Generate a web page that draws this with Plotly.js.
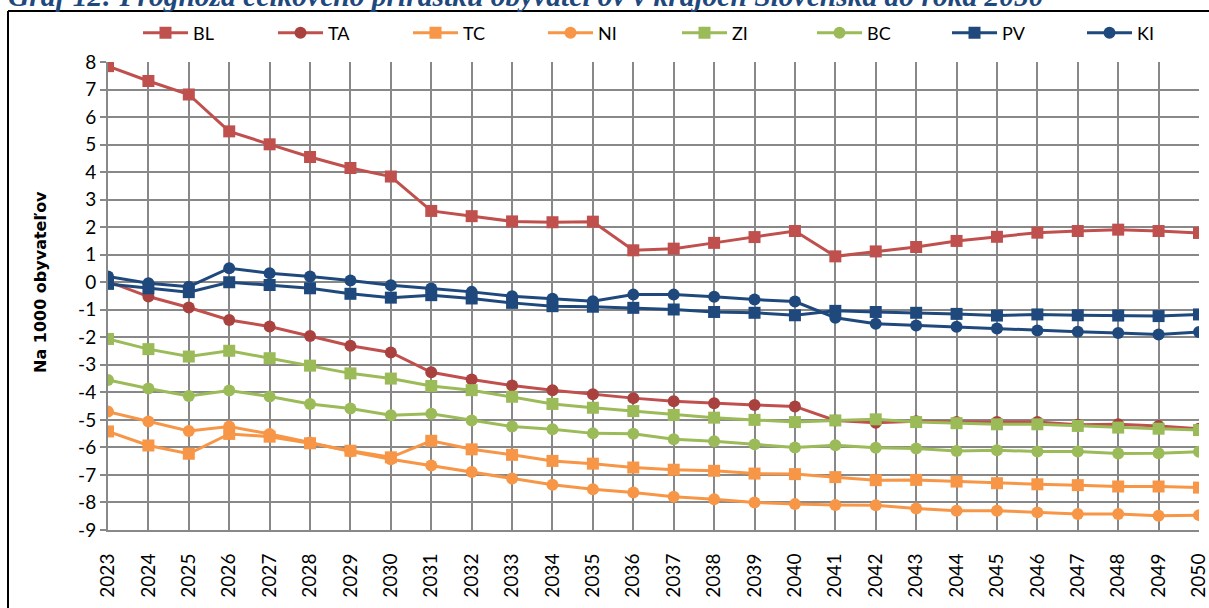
<!DOCTYPE html>
<html>
<head>
<meta charset="utf-8">
<script src="https://cdn.plot.ly/plotly-3.0.1.min.js"></script>
<style>
  html, body { margin: 0; padding: 0; background: #ffffff; }
  #chart { width: 1209px; height: 608px; }
</style>
</head>
<body>
<div id="chart"></div>
<script>
// Years (categories)
const years = [2023,2024,2025,2026,2027,2028,2029,2030,2031,2032,2033,2034,2035,2036,2037,2038,2039,2040,2041,2042,2043,2044,2045,2046,2047,2048,2049,2050];

// Series values (per 1000 inhabitants)
const BL = [7.85,7.31,6.82,5.48,5.01,4.55,4.15,3.84,2.59,2.40,2.21,2.18,2.20,1.16,1.22,1.43,1.64,1.86,0.94,1.12,1.28,1.50,1.65,1.80,1.86,1.91,1.86,1.79];
const TA = [0.03,-0.52,-0.92,-1.37,-1.61,-1.95,-2.31,-2.55,-3.27,-3.53,-3.75,-3.92,-4.07,-4.21,-4.32,-4.40,-4.46,-4.51,-5.02,-5.10,-5.05,-5.08,-5.08,-5.08,-5.18,-5.16,-5.22,-5.32];
const TC = [-5.42,-5.93,-6.23,-5.51,-5.61,-5.85,-6.12,-6.36,-5.76,-6.07,-6.27,-6.49,-6.59,-6.73,-6.81,-6.85,-6.95,-6.97,-7.08,-7.19,-7.18,-7.24,-7.30,-7.34,-7.37,-7.42,-7.42,-7.46];
const NI = [-4.70,-5.06,-5.40,-5.24,-5.51,-5.82,-6.15,-6.43,-6.66,-6.89,-7.13,-7.36,-7.52,-7.64,-7.79,-7.88,-8.00,-8.06,-8.09,-8.10,-8.22,-8.30,-8.30,-8.36,-8.42,-8.42,-8.48,-8.46];
const ZI = [-2.06,-2.43,-2.70,-2.49,-2.76,-3.03,-3.31,-3.50,-3.77,-3.92,-4.16,-4.42,-4.56,-4.68,-4.82,-4.92,-5.00,-5.08,-5.02,-4.98,-5.08,-5.12,-5.16,-5.16,-5.22,-5.28,-5.32,-5.37];
const BC = [-3.55,-3.86,-4.13,-3.93,-4.15,-4.42,-4.59,-4.83,-4.78,-5.02,-5.24,-5.34,-5.49,-5.50,-5.70,-5.78,-5.89,-6.00,-5.92,-6.01,-6.04,-6.13,-6.10,-6.15,-6.15,-6.22,-6.21,-6.16];
const PV = [-0.06,-0.22,-0.36,0.00,-0.10,-0.22,-0.42,-0.56,-0.47,-0.59,-0.75,-0.87,-0.89,-0.93,-0.99,-1.08,-1.11,-1.20,-1.04,-1.08,-1.11,-1.15,-1.21,-1.17,-1.20,-1.21,-1.23,-1.17];
const KI = [0.21,-0.04,-0.16,0.51,0.33,0.21,0.06,-0.11,-0.23,-0.35,-0.51,-0.60,-0.69,-0.45,-0.45,-0.53,-0.63,-0.70,-1.29,-1.51,-1.57,-1.62,-1.68,-1.75,-1.80,-1.84,-1.90,-1.81];

const yTicks = [8,7,6,5,4,3,2,1,0,-1,-2,-3,-4,-5,-6,-7,-8,-9];

const seriesDefs = [
  {name:'BL', y:BL, color:'#C0504D', mcolor:'#C0504D', symbol:'square', lg:'legend'},
  {name:'TA', y:TA, color:'#C0504D', mcolor:'#A9423F', symbol:'circle', lg:'legend'},
  {name:'TC', y:TC, color:'#F79646', mcolor:'#F79646', symbol:'square', lg:'legend'},
  {name:'NI', y:NI, color:'#F79646', mcolor:'#F79646', symbol:'circle', lg:'legend'},
  {name:'ZI', y:ZI, color:'#9BBB59', mcolor:'#9BBB59', symbol:'square', lg:'legend2'},
  {name:'BC', y:BC, color:'#9BBB59', mcolor:'#9BBB59', symbol:'circle', lg:'legend2'},
  {name:'PV', y:PV, color:'#1F497D', mcolor:'#1F497D', symbol:'square', lg:'legend2'},
  {name:'KI', y:KI, color:'#1F497D', mcolor:'#1F497D', symbol:'circle', lg:'legend2'}
];

const traces = seriesDefs.map(s => ({
  type:'scatter', mode:'lines+markers', name:s.name, legend:s.lg,
  x: years, y: s.y,
  line:{color:s.color, width:3},
  marker:{symbol:s.symbol, color:s.mcolor, size: 12}
}));

const W = 1209, H = 608;
const L = 108, R = 10, T = 62, B = 78;
const pw = W - L - R, ph = H - T - B;
const px = x => (x - L) / pw;
const py = y => (H - B - y) / ph;

const legendBase = {
  orientation:'h', xanchor:'left', y: py(33), yanchor:'middle',
  font:{family:'Lato, sans-serif', size:18, color:'#000000'},
  bgcolor:'rgba(0,0,0,0)', itemwidth:45, entrywidth:75, entrywidthmode:'pixels',
  traceorder:'normal'
};

const layout = {
  width: W, height: H,
  margin: {l:L, r:R, t:T, b:B, pad:0, autoexpand:false},
  paper_bgcolor:'#ffffff', plot_bgcolor:'#ffffff',
  showlegend: true,
  legend: Object.assign({}, legendBase, {x: px(138)}),
  legend2: Object.assign({}, legendBase, {x: px(677)}),
  xaxis: {
    type:'linear', range:[2023, 2050], tickmode:'array', tickvals: years, ticktext: years.map(String),
    tickangle:-90, showgrid:true, gridcolor:'#888888', gridwidth:2,
    showline:true, linecolor:'#888888', linewidth:2, mirror:false,
    ticks:'', ticklabelstandoff:14, ticklabeloverflow:'allow', automargin:false,
    tickfont:{family:'Lato, sans-serif', size:19, color:'#000000'},
    zeroline:false, fixedrange:true
  },
  yaxis: {
    range:[-9, 8], tickmode:'array', tickvals: yTicks, ticktext: yTicks.map(String),
    showgrid:true, gridcolor:'#888888', gridwidth:2,
    showline:true, linecolor:'#888888', linewidth:2, automargin:false,
    ticks:'outside', ticklen:6, tickcolor:'#888888', tickwidth:2,
    tickfont:{family:'Lato, sans-serif', size:19, color:'#000000'},
    zeroline:false, fixedrange:true
  },
  shapes: [
    {type:'line', xref:'paper', yref:'paper', x0:px(8), x1:px(8), y0:py(620), y1:py(11), line:{color:'#000000', width:2}},
    {type:'line', xref:'paper', yref:'paper', x0:px(8), x1:px(1215), y0:py(11), y1:py(11), line:{color:'#000000', width:2}}
  ],
  annotations: [
    {xref:'paper', yref:'paper', x:px(6), y:py(14), xanchor:'left', yanchor:'bottom', showarrow:false,
     text:'<b><i>Graf 12: Prognóza celkového prírastku obyvateľov v krajoch Slovenska do roka 2050</i></b>',
     font:{family:'Liberation Serif, serif', size:29.5, color:'#1F497D'}},
    {xref:'paper', yref:'paper', x:px(40), y:py(282), xanchor:'center', yanchor:'middle', textangle:-90, showarrow:false,
     text:'<b>Na 1000 obyvateľov</b>',
     font:{family:'DejaVu Sans, sans-serif', size:16, color:'#000000'}}
  ]
};

Plotly.newPlot('chart', traces, layout, {displayModeBar:false, staticPlot:true});
</script>
</body>
</html>
